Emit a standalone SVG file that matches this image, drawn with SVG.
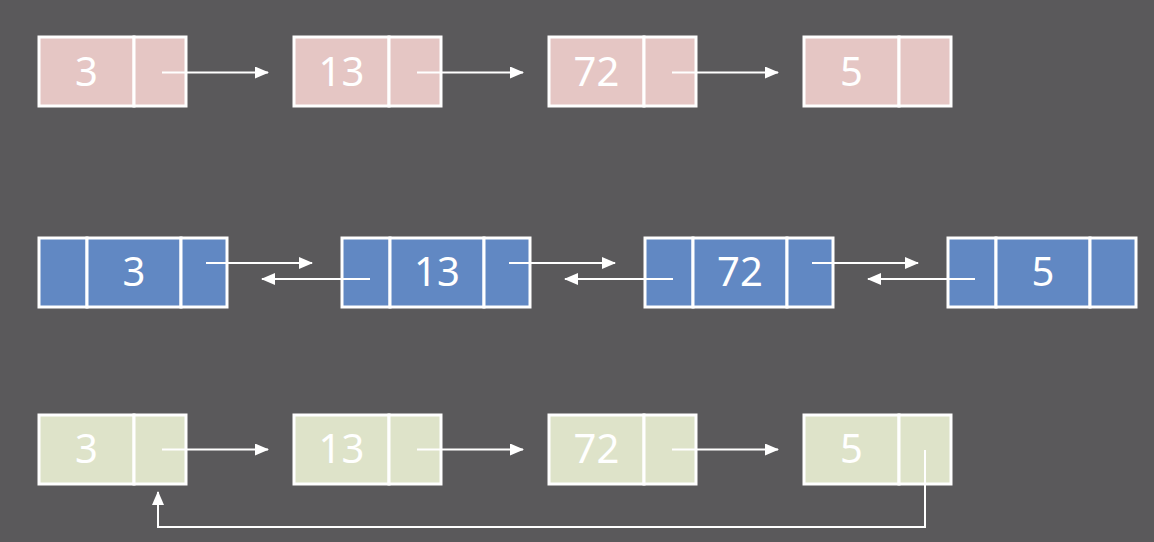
<svg xmlns="http://www.w3.org/2000/svg" width="1154" height="542" viewBox="0 0 1154 542">
<defs>
<marker id="ah" markerWidth="14" markerHeight="12" refX="13" refY="6" orient="auto" markerUnits="userSpaceOnUse">
<path d="M0,0 L14,6 L0,12 Z" fill="#ffffff"/>
</marker>
<style>
.cell{stroke:#ffffff;stroke-width:3}
.pink{fill:#e5c6c4}
.blue{fill:#6188c3}
.green{fill:#dee3c9}
.val{font-family:"Noto Sans","Liberation Sans",sans-serif;font-size:40px;fill:#ffffff;text-anchor:middle}
.ln{stroke:#ffffff;stroke-width:2;fill:none}
.ar{marker-end:url(#ah)}
</style>
</defs>
<rect width="1154" height="542" fill="#5a595b"/>

<g id="s1n1"><rect class="cell pink" x="39" y="37" width="95" height="69"/><rect class="cell pink" x="134" y="37" width="52" height="69"/><text class="val" x="86.5" y="86">3</text></g>
<g id="s1n2"><rect class="cell pink" x="294" y="37" width="95" height="69"/><rect class="cell pink" x="389" y="37" width="52" height="69"/><text class="val" x="341.5" y="86">13</text></g>
<g id="s1n3"><rect class="cell pink" x="549" y="37" width="95" height="69"/><rect class="cell pink" x="644" y="37" width="52" height="69"/><text class="val" x="596.5" y="86">72</text></g>
<g id="s1n4"><rect class="cell pink" x="804" y="37" width="95" height="69"/><rect class="cell pink" x="899" y="37" width="52" height="69"/><text class="val" x="851.5" y="86">5</text></g>

<g id="s2n1"><rect class="cell blue" x="39" y="238" width="48" height="69"/><rect class="cell blue" x="87" y="238" width="94" height="69"/><rect class="cell blue" x="181" y="238" width="46" height="69"/><text class="val" x="134" y="286">3</text></g>
<g id="s2n2"><rect class="cell blue" x="342" y="238" width="48" height="69"/><rect class="cell blue" x="390" y="238" width="94" height="69"/><rect class="cell blue" x="484" y="238" width="46" height="69"/><text class="val" x="437" y="286">13</text></g>
<g id="s2n3"><rect class="cell blue" x="645" y="238" width="48" height="69"/><rect class="cell blue" x="693" y="238" width="94" height="69"/><rect class="cell blue" x="787" y="238" width="46" height="69"/><text class="val" x="740" y="286">72</text></g>
<g id="s2n4"><rect class="cell blue" x="948" y="238" width="48" height="69"/><rect class="cell blue" x="996" y="238" width="94" height="69"/><rect class="cell blue" x="1090" y="238" width="46" height="69"/><text class="val" x="1043" y="286">5</text></g>

<g id="s3n1"><rect class="cell green" x="39" y="415" width="95" height="69"/><rect class="cell green" x="134" y="415" width="52" height="69"/><text class="val" x="86.5" y="463">3</text></g>
<g id="s3n2"><rect class="cell green" x="294" y="415" width="95" height="69"/><rect class="cell green" x="389" y="415" width="52" height="69"/><text class="val" x="341.5" y="463">13</text></g>
<g id="s3n3"><rect class="cell green" x="549" y="415" width="95" height="69"/><rect class="cell green" x="644" y="415" width="52" height="69"/><text class="val" x="596.5" y="463">72</text></g>
<g id="s3n4"><rect class="cell green" x="804" y="415" width="95" height="69"/><rect class="cell green" x="899" y="415" width="52" height="69"/><text class="val" x="851.5" y="463">5</text></g>

<g id="connectors">
<line class="ln ar" x1="162" y1="72.5" x2="268" y2="72.5"/>
<line class="ln ar" x1="417" y1="72.5" x2="523" y2="72.5"/>
<line class="ln ar" x1="672" y1="72.5" x2="778" y2="72.5"/>

<line class="ln ar" x1="206" y1="263" x2="312" y2="263"/>
<line class="ln ar" x1="509" y1="263" x2="615" y2="263"/>
<line class="ln ar" x1="812" y1="263" x2="918" y2="263"/>
<line class="ln ar" x1="370" y1="279" x2="262" y2="279"/>
<line class="ln ar" x1="673" y1="279" x2="565" y2="279"/>
<line class="ln ar" x1="975" y1="279" x2="868" y2="279"/>

<line class="ln ar" x1="162" y1="449.5" x2="268" y2="449.5"/>
<line class="ln ar" x1="417" y1="449.5" x2="523" y2="449.5"/>
<line class="ln ar" x1="672" y1="449.5" x2="778" y2="449.5"/>
<polyline class="ln ar" points="925,450 925,527 158,527 158,492"/>
</g>
</svg>
